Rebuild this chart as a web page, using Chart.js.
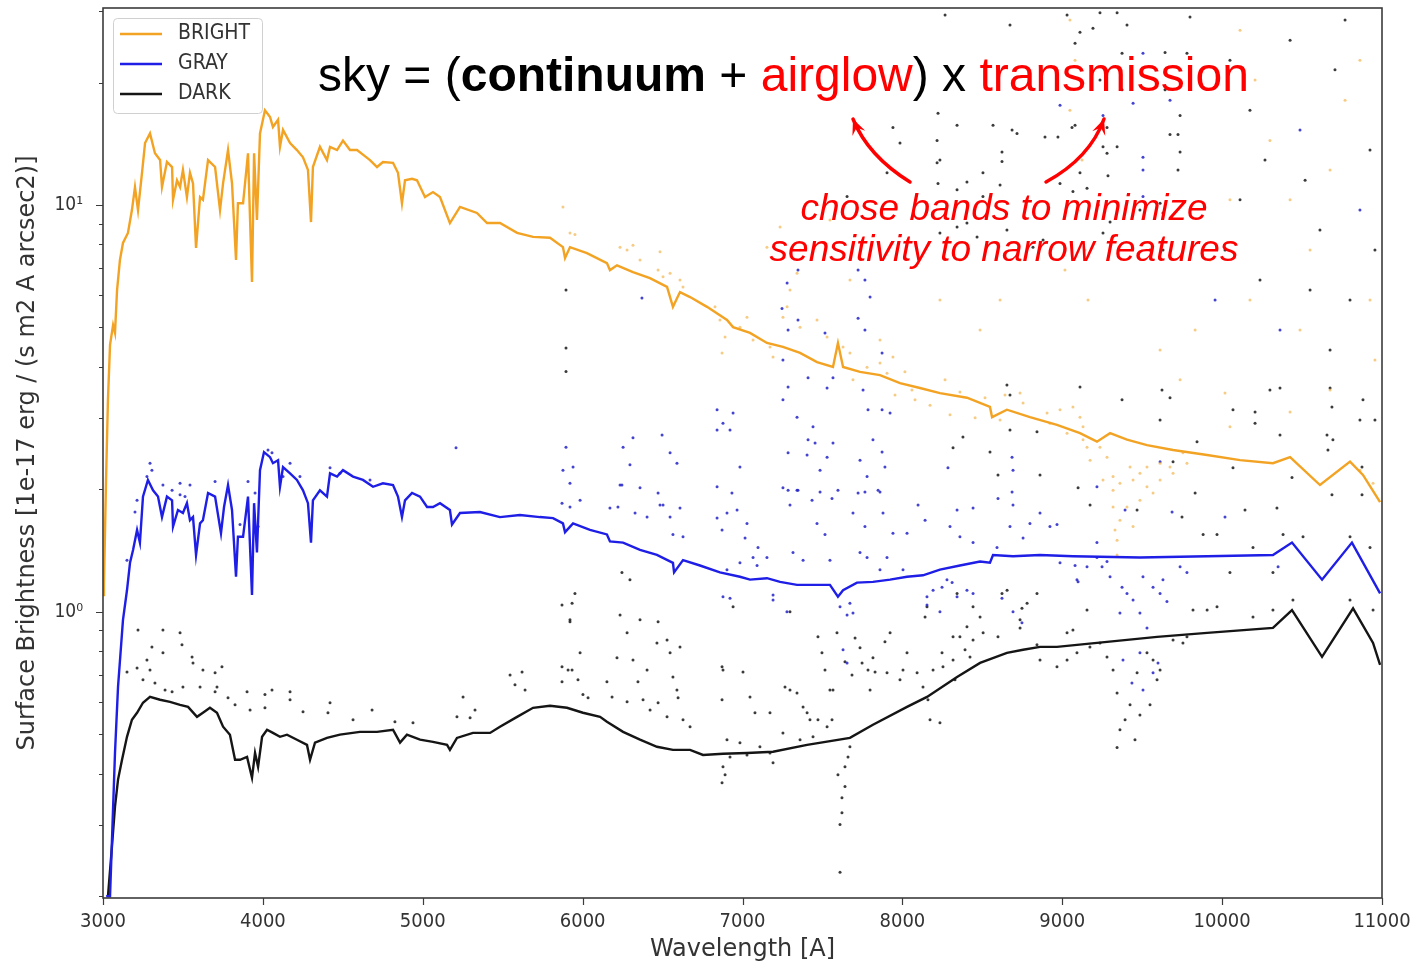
<!DOCTYPE html>
<html>
<head>
<meta charset="utf-8">
<title>Sky brightness</title>
<script src="https://cdn.jsdelivr.net/npm/chart.js@4.4.1/dist/chart.umd.min.js"></script>
<style>
  html, body { margin: 0; padding: 0; background: #fff; }
  #wrap { position: relative; width: 1416px; height: 967px; }
</style>
</head>
<body>
<div id="wrap"><canvas id="sky"></canvas></div>
<script>
'use strict';

// ---------------------------------------------------------------------------
// Data: [wavelength (A), surface brightness (1e-17 erg / (s m2 A arcsec2))]
// ---------------------------------------------------------------------------
const X_TICKS = [3000, 4000, 5000, 6000, 7000, 8000, 9000, 10000, 11000];
const Y_TICKS = [0.2, 0.3, 0.4, 0.5, 0.6, 0.7, 0.8, 0.9, 1, 2, 3, 4, 5, 6, 7, 8, 9, 10, 20, 30];
const Y_LABELS = { 1: '10\u2070', 10: '10\u00b9' };
const X_RANGE = [3000, 11000];
const Y_RANGE = [0.198, 30.5];

const BRIGHT_LINE = [
  [3000,1.1],[3006,1.17],[3019,2.11],[3031,3.32],[3044,4.53],[3063,5.07],[3075,4.85],[3088,6.18],
  [3106,7.33],[3125,8.07],[3156,8.54],[3181,9.72],[3200,11.07],[3219,9.72],[3244,12.0],[3263,14.2],
  [3294,15.0],[3325,13.4],[3357,12.9],[3369,11.07],[3400,12.76],[3432,12.4],[3438,10.3],[3463,11.5],
  [3482,11.07],[3500,12.2],[3525,10.46],[3544,12.0],[3563,11.3],[3582,7.84],[3607,10.46],[3625,10.3],
  [3657,12.9],[3701,12.4],[3732,9.72],[3751,11.3],[3782,13.65],[3807,11.3],[3832,7.33],[3844,10.1],
  [3876,10.1],[3907,13.4],[3932,6.47],[3945,13.4],[3963,9.19],[3982,15.0],[4013,17.1],[4045,16.45],
  [4063,15.55],[4095,16.2],[4107,13.9],[4126,15.3],[4170,14.2],[4213,13.65],[4251,13.1],[4282,12.2],
  [4301,9.08],[4313,12.4],[4357,13.9],[4401,12.9],[4420,13.9],[4464,13.65],[4501,14.4],[4545,13.65],
  [4589,13.65],[4626,13.3],[4670,12.9],[4714,12.4],[4751,12.76],[4814,12.7],[4845,12.0],[4870,10.1],
  [4889,11.5],[4933,11.6],[4964,11.5],[5014,10.46],[5064,10.76],[5108,10.46],[5170,9.03],[5233,9.89],
  [5339,9.56],[5402,9.03],[5483,9.03],[5590,8.54],[5690,8.35],[5796,8.31],[5877,7.88],[5890,7.41],
  [5921,7.88],[6027,7.62],[6152,7.2],[6171,6.92],[6215,7.11],[6315,6.84],[6421,6.61],[6528,6.29],
  [6565,5.62],[6609,6.11],[6672,5.94],[6778,5.62],[6903,5.22],[6941,5.01],[7047,4.85],[7153,4.58],
  [7253,4.48],[7360,4.33],[7466,4.11],[7566,4.0],[7597,4.58],[7629,4.0],[7735,3.89],[7860,3.82],
  [7985,3.65],[8110,3.55],[8235,3.45],[8404,3.36],[8548,3.19],[8561,3.01],[8654,3.14],[8798,3.01],
  [8967,2.88],[9111,2.75],[9217,2.62],[9299,2.75],[9405,2.65],[9530,2.57],[9693,2.5],[9906,2.43],
  [10112,2.36],[10318,2.32],[10425,2.4],[10612,2.05],[10800,2.34],[10881,2.17],[10988,1.86]
];

const GRAY_LINE = [
  [3020,0.2],[3044,0.2],[3075,0.45],[3094,0.654],[3125,0.956],[3150,1.13],[3169,1.32],[3188,1.42],
  [3213,1.59],[3231,1.48],[3250,1.92],[3281,2.11],[3313,1.99],[3344,1.92],[3369,1.71],[3400,1.92],
  [3432,1.88],[3438,1.62],[3469,1.78],[3500,1.75],[3525,1.85],[3544,1.68],[3563,1.71],[3582,1.38],
  [3607,1.65],[3625,1.68],[3657,1.96],[3701,1.92],[3738,1.56],[3757,1.81],[3782,2.05],[3807,1.78],
  [3832,1.22],[3844,1.53],[3876,1.53],[3907,1.92],[3932,1.1],[3945,1.85],[3963,1.4],[3982,2.23],
  [4007,2.47],[4045,2.4],[4063,2.32],[4095,2.36],[4107,2.03],[4126,2.27],[4170,2.19],[4213,2.11],
  [4251,1.99],[4282,1.85],[4301,1.48],[4313,1.88],[4357,1.99],[4401,1.92],[4420,2.19],[4464,2.15],
  [4501,2.23],[4564,2.15],[4626,2.11],[4689,2.03],[4751,2.07],[4814,2.05],[4845,1.92],[4870,1.71],
  [4889,1.88],[4933,1.96],[4983,1.92],[5027,1.81],[5064,1.81],[5108,1.85],[5170,1.78],[5183,1.64],
  [5233,1.75],[5358,1.76],[5483,1.71],[5608,1.73],[5733,1.71],[5815,1.7],[5877,1.65],[5890,1.57],
  [5940,1.65],[6046,1.59],[6152,1.55],[6171,1.49],[6253,1.48],[6359,1.42],[6465,1.38],[6565,1.32],
  [6572,1.25],[6628,1.34],[6734,1.3],[6859,1.25],[6984,1.22],[7047,1.2],[7153,1.21],[7235,1.185],
  [7341,1.165],[7441,1.165],[7547,1.165],[7597,1.09],[7629,1.13],[7716,1.18],[7816,1.185],[7923,1.2],
  [8029,1.22],[8129,1.23],[8235,1.27],[8360,1.3],[8486,1.33],[8548,1.32],[8567,1.38],[8692,1.37],
  [8861,1.38],[9067,1.37],[9486,1.36],[9906,1.37],[10318,1.38],[10437,1.48],[10625,1.2],[10812,1.48],
  [10988,1.11]
];

const DARK_LINE = [
  [3031,0.2],[3056,0.265],[3075,0.332],[3094,0.387],[3119,0.433],[3150,0.493],[3181,0.543],[3213,0.565],
  [3250,0.598],[3294,0.618],[3357,0.608],[3419,0.601],[3482,0.591],[3532,0.584],[3588,0.552],[3625,0.565],
  [3669,0.581],[3713,0.565],[3751,0.522],[3794,0.499],[3826,0.433],[3857,0.433],[3901,0.44],[3932,0.391],
  [3951,0.45],[3970,0.416],[3995,0.493],[4026,0.513],[4063,0.504],[4107,0.493],[4151,0.499],[4213,0.485],
  [4276,0.471],[4295,0.433],[4326,0.477],[4401,0.49],[4482,0.499],[4607,0.507],[4714,0.507],[4814,0.513],
  [4858,0.477],[4901,0.499],[4983,0.485],[5064,0.479],[5152,0.471],[5170,0.458],[5214,0.49],[5314,0.504],
  [5421,0.504],[5483,0.522],[5590,0.552],[5690,0.581],[5796,0.588],[5902,0.581],[6002,0.565],[6109,0.552],
  [6152,0.537],[6253,0.507],[6359,0.485],[6465,0.466],[6565,0.458],[6672,0.458],[6753,0.445],[6878,0.448],
  [7028,0.45],[7191,0.453],[7404,0.471],[7672,0.49],[7816,0.528],[8029,0.584],[8154,0.618],[8342,0.692],
  [8486,0.749],[8654,0.793],[8755,0.807],[8861,0.82],[8967,0.82],[9280,0.844],[9593,0.868],[9906,0.888],
  [10318,0.913],[10437,1.01],[10625,0.775],[10819,1.02],[10944,0.839],[10988,0.741]
];

// individual sky fibres that scatter around each median spectrum
const DARK_DOTS = [
  [3219,0.903],[3375,0.903],[3482,0.888],[3306,0.82],[3375,0.793],[3494,0.83],[3150,0.712],[3213,0.728],
  [3275,0.762],[3294,0.72],[3557,0.775],[3563,0.749],[3625,0.72],[3701,0.708],[3744,0.733],[3250,0.681],
  [3325,0.669],[3388,0.643],[3432,0.636],[3500,0.654],[3607,0.654],[3713,0.654],[3701,0.636],[3782,0.615],
  [3826,0.591],[3901,0.636],[3920,0.574],[4013,0.626],[4057,0.643],[4170,0.636],[4013,0.581],[4170,0.608],
  [4251,0.568],[4420,0.598],[4407,0.565],[4564,0.543],[4683,0.574],[4826,0.537],[4939,0.534],[5214,0.552],
  [5252,0.618],[5296,0.549],[5327,0.574],[5546,0.7],[5577,0.662],[5621,0.712],[5640,0.643],[5871,0.733],
  [5909,0.72],[5984,0.793],[5921,0.945],[5871,0.673],[5971,0.681],[6002,0.626],[6034,0.615],
  [5871,1.04],[5934,1.05],[5921,0.956],[5952,1.11],[6234,0.983],[6359,0.956],[6472,0.945],[6278,0.888],
  [6465,0.839],[6215,0.771],[5934,0.72],[6152,0.673],[6315,0.762],[6403,0.72],[6565,0.692],[6547,0.793],
  [6609,0.82],[6528,0.853],[6346,0.673],[6590,0.643],[6597,0.615],[6184,0.618],[6278,0.601],[6378,0.608],
  [6472,0.598],[6422,0.574],[6528,0.552],[6628,0.543],[6672,0.522],[6872,0.733],[6878,0.72],[7003,0.712],
  [6872,0.608],[7047,0.618],[7078,0.565],[7172,0.565],[7266,0.654],[7297,0.643],[7341,0.632],[7404,0.565],
  [7422,0.543],[7472,0.543],[7529,0.522],[7560,0.543],[7547,0.643],[7379,0.584],[6903,0.485],[6984,0.477],
  [7109,0.466],[7172,0.45],[7253,0.504],[7191,0.426],[6878,0.416],[6891,0.398],[6872,0.38],[6922,0.44],
  [7028,0.445],[7360,0.485],[7441,0.493],[7672,0.466],[7660,0.44],[7641,0.416],[7597,0.398],[7641,0.372],
  [7622,0.349],[7622,0.321],[7610,0.3],[7610,0.229],[7472,0.868],[7516,0.72],[7497,0.793],[7566,0.643],
  [7591,0.888],[7704,0.863],[7641,0.754],[7685,0.7],[7735,0.816],[7816,0.771],[7891,0.844],[7923,0.888],
  [7748,0.749],[7785,0.72],[7829,0.712],[7798,0.643],[7904,0.708],[7985,0.681],[8029,0.793],[8004,0.72],
  [8092,0.708],[8129,0.654],[8160,0.608],[8173,0.543],[8235,0.534],[8248,0.793],[8192,0.72],[8254,0.733],
  [8329,0.681],[8317,0.868],[8404,0.919],[8392,0.807],[8442,0.853],[8505,0.888],[8598,0.868],[8736,0.956],
  [8842,0.83],[8623,1.11],[8748,1.02],[8442,1.03],[8342,1.11],[8142,0.972],[8154,1.03],[6246,1.25],
  [6296,1.2],[6941,1.03],[7297,1.0],
  [8736,0.913],[9030,0.888],[9155,1.01],[9067,0.903],[9236,0.839],[9280,0.775],[9318,0.72],[9343,0.632],
  [9468,0.708],[9530,0.793],[9568,0.762],[9593,0.681],[9612,0.72],[9693,0.853],[9755,0.839],[9780,0.868],
  [9818,1.01],[9906,1.01],[9968,1.03],[8655,1.13],[8486,0.972],[8360,0.868],[8317,0.762],[8423,0.775],
  [8861,0.762],[8967,0.733],[9030,0.762],[9092,0.793],[9173,0.82],[8780,1.05],[8842,1.11],[10193,0.972],
  [10318,1.01],[10443,1.07],[10800,1.07],[10944,1.01],[9361,0.513],[9393,0.543],[9424,0.591],[9343,0.464],
  [9455,0.485],[9549,0.591],[9486,0.558],
  [8654,3.61],[8673,3.41],[9111,3.57],[9374,3.32],[9624,3.51],[9674,3.36],[10299,3.51],[10362,3.55],
  [10675,3.55],[10687,3.19],[10881,3.32],[10862,2.96],[9612,2.96],[10206,2.91],[10206,3.1],[10068,3.14],
  [10956,2.96],[10656,2.72],[10693,2.65],[10662,2.5],[8379,2.69],[8317,2.53],[8548,2.47],[8673,2.8],
  [8842,2.77],[9843,2.62],[10362,2.72],[10437,2.14],[9693,2.34],[10068,2.26],[10875,2.27],[8598,2.17],
  [8861,2.17],[9099,2.02],[9831,1.96],[10343,1.8],[10687,1.94],[10875,1.94],[10143,1.78],[9749,1.71],
  [9468,1.78],[9174,1.83],[10381,1.55],[10506,1.53],[10800,1.53],[10925,1.44],[10193,1.44],[9881,1.55],
  [9968,1.55],[10049,1.25],[10318,1.25],[5896,6.18],[5896,4.45],[5896,3.9],
  [8267,29.3],[8673,27.7],[9030,29.3],[9236,29.7],[9343,29.7],[9799,29.0],[9111,26.6],[9192,27.2],
  [9405,27.7],[9080,25.0],[9374,23.6],[9643,23.7],[9780,23.6],[9236,20.3],[9374,19.2],[9643,19.2],
  [9737,16.6],[9061,15.5],[9080,15.7],[9280,15.5],[9674,14.9],[9724,14.9],[8717,15.0],[8892,14.7],
  [8973,14.7],[9255,13.9],[9280,13.4],[9343,13.9],[9737,13.5],[8623,12.8],[8623,13.5],[9111,12.0],
  [9286,11.8],[9724,12.2],[8986,11.3],[9067,10.8],[9155,11.0],[9612,10.1],[9486,9.72],[9630,9.56],
  [9224,10.0],[9299,9.08],[9549,7.75],[9630,7.75],[9255,8.54],[8223,11.3],[8342,10.9],[8404,11.4],
  [8504,12.0],[8611,11.2],[8223,16.8],[8342,15.7],[8567,15.7],[8686,15.3],[8235,12.9],[8504,10.5],
  [8342,8.83],[8235,8.54],[8404,9.03],[8467,8.35],[8654,8.68],[8817,7.88],[8880,8.2],[7941,15.5],
  [7985,14.2],[8217,14.4],[8217,12.7],[7904,12.0],[7654,10.5],
  [10049,22.7],[10174,17.1],[10268,12.9],[10425,25.4],[10519,11.5],[10612,8.68],[10706,21.5],[10769,28.5],
  [10800,5.84],[10925,13.65],[10956,7.75],[10237,6.54],[10550,6.18],[10675,4.4],[10112,10.3],[10018,7.75]
];

const GRAY_DOTS = [
  [3294,2.32],[3306,2.23],[3275,2.15],[3213,1.88],[3200,1.76],[3150,1.34],[3375,2.05],[3432,1.99],
  [3482,2.07],[3544,2.05],[3482,1.94],[3701,2.09],[3907,2.09],[3951,1.96],[3857,1.64],[4032,2.5],
  [4170,2.32],[4057,2.46],[4126,2.15],[4232,2.15],[4420,2.26],[4482,2.19],[4670,2.11],[3970,1.62],
  [3513,1.92],
  [5871,1.85],[5921,1.81],[5984,1.88],[5921,2.07],[6234,2.05],[6359,2.02],[6472,1.96],[6171,1.8],
  [6221,1.81],[6328,1.75],[6403,1.71],[6484,1.83],[6503,1.83],[6547,1.71],[6609,1.8],[6565,1.55],
  [6628,1.53],[6841,2.03],[6934,1.96],[6903,1.75],[6966,1.78],[6841,1.7],[6872,1.59],[7028,1.65],
  [7016,1.52],[7066,1.36],[7097,1.44],[7253,2.02],[7341,1.99],[7297,1.83],[7435,1.88],[7466,1.65],
  [7516,1.55],[7560,1.9],[7597,1.99],[7691,1.75],[7723,1.96],[7766,1.62],[7848,1.99],[7879,1.75],
  [7941,1.56],[8029,1.56],[8098,1.83],[8142,1.68],[8342,1.78],[8442,1.8],[8598,1.9],[8686,1.97],
  [8692,1.83],[8798,1.65],[8861,1.75],
  [6878,1.09],[6922,1.08],[7191,1.1],[7191,1.07],[7278,1.0],[7610,1.03],[7672,1.05],[7654,0.983],
  [7691,0.994],[7629,0.807],[7735,1.4],[7654,0.749],[8154,1.09],[8154,1.04],[8235,1.0],[8342,1.09],
  [8442,1.11],[8623,1.08],[8692,1.0],[8748,0.94],[8192,1.13],[8248,1.15],[8311,1.18],[7860,1.27],
  [7904,1.36],[8004,1.27],[7779,1.36],[7547,1.34],[7379,1.34],[7316,1.4],[7153,1.36],[7091,1.3],
  [6984,1.32],[6903,1.27],
  [6371,5.91],[5208,2.53],[5896,2.54],[5877,2.23],[5940,2.27],[6253,2.54],[6315,2.68],[6296,2.3],
  [6497,2.72],[6547,2.46],[6590,2.32],[6246,2.05],[6841,3.14],[6878,2.91],[6941,3.08],[6841,2.8],
  [6922,2.8],[6984,2.27],[7253,3.32],[7285,3.57],[7341,3.01],[7410,2.65],[7454,2.6],[7441,2.85],
  [7529,2.4],[7566,2.6],[7404,2.43],[7285,2.46],[7285,1.99],[7347,1.99],[7485,2.23],[7253,4.16],
  [7410,3.76],[7529,3.55],[7566,3.76],[7285,4.93],[7347,5.22],[7247,5.57],[7516,4.85],[7723,5.27],
  [7766,4.93],[7279,6.43],[7347,6.92],[7723,6.92],[7766,6.54],[7798,5.94],[7873,4.33],[7754,3.51],
  [7785,3.14],[7873,3.14],[7923,3.08],[7816,2.65],[7873,2.47],[7735,2.36],[7891,2.27],[7779,2.15],
  [7860,1.97],[7766,1.97],[7485,1.97],
  [9080,1.3],[9099,1.185],[9217,1.36],[9249,1.29],[9299,1.22],[9374,1.15],[9405,1.11],[9443,1.07],
  [9505,1.22],[9568,1.15],[9612,1.11],[9630,1.2],[9655,1.06],[9737,1.29],[9780,1.25],[9486,0.994],
  [9530,0.913],[9361,0.994],[9380,0.762],[9436,0.669],[9505,0.643],[9568,0.708],[9599,0.749],[9486,0.793],
  [10350,1.29],[8967,1.64],[8298,1.62],[8360,1.53],[8442,1.48],[8592,1.44],[8673,1.62],[8755,1.52],
  [8923,1.62],[8986,1.32],[9092,1.2],[9155,1.29],[9217,1.48],[9280,1.33],[8279,1.2],[8404,1.13],
  [8686,2.4],[9612,2.34],[8285,2.26],[8692,2.23],[9217,2.03],[10018,1.71],[9687,1.76],[9393,1.78],
  [9505,23.6],[9674,18.1],[8986,17.6],[9255,16.6],[9505,13.1],[9505,12.2],[9443,17.8],[10487,15.3],
  [10862,9.72],[10362,4.93],[9956,5.84],[9505,10.5]
];

const BRIGHT_DOTS = [
  [5877,9.89],[5921,8.54],[5952,8.46],[6234,7.88],[6278,7.75],[6315,7.96],[6359,7.33],[6472,6.92],
  [6503,6.66],[6547,6.8],[6609,6.54],[6628,6.29],[6484,7.68],[6828,5.62],[6859,5.22],[6891,4.74],
  [6872,4.33],[6984,5.01],[7028,5.3],[7066,4.66],[7172,4.48],[7191,4.23],[7253,5.3],[7279,5.62],
  [7360,5.01],[7466,5.22],[7529,4.74],[7629,4.48],[7672,4.33],[7691,3.72],[7779,3.99],[7860,4.09],
  [7904,3.86],[7860,4.66],[7941,4.23],[7297,6.18],[7341,6.8],[7153,7.88],[7235,8.83],
  [8923,2.91],[9111,3.01],[9155,2.54],[9174,2.36],[9280,2.4],[9318,2.15],[9361,2.07],[9443,2.11],
  [9486,2.19],[9530,2.03],[9568,1.96],[9486,1.88],[9405,1.81],[9361,1.68],[9443,1.62],[9318,1.81],
  [9612,2.11],[9674,2.27],[9693,2.19],[9780,2.32],[9755,2.46],[9612,2.32],[9530,2.27],[9424,2.27],
  [9318,1.99],[9255,2.11],[9236,2.54],[9130,2.65],[9030,2.75],[8755,3.26],[8736,3.45],[8905,3.08],
  [8986,3.14],[9067,3.19],[9130,2.85],[10018,3.45],[10675,3.51],[10862,2.23],[10944,2.07],[10425,3.1],
  [10049,2.85],[8016,3.89],[8079,3.32],[8173,3.22],[8267,3.72],[8298,3.05],[8360,3.47],[8455,3.0],
  [8517,3.36],[8611,2.96],[8642,3.41],[8060,3.51],[7954,3.41],[9343,1.5],[9343,1.38],[9330,1.59],
  [9048,28.5],[9080,22.7],[9048,17.1],[9124,12.9],[9099,9.72],[9142,7.75],[9161,5.84],[9017,6.92],
  [10112,26.9],[10206,20.3],[10299,14.4],[10425,10.3],[10550,7.75],[10675,12.2],[10769,18.1],[10862,22.7],
  [10925,5.84],[10956,4.16],[10487,4.93],[10174,5.84],[10049,10.3],[9924,7.33],[9831,4.93],[9737,3.72],
  [9612,4.4],[8736,7.33],[8611,5.84],[8486,4.93],[8360,7.33],[8235,5.84],[7360,7.75],[7547,9.19],
  [7672,6.54]
];

const SERIES = [
  { label: 'BRIGHT', line: BRIGHT_LINE, dots: BRIGHT_DOTS, color: '#f3a323', dotColor: 'rgba(240,168,50,0.6)' },
  { label: 'GRAY',   line: GRAY_LINE,   dots: GRAY_DOTS,   color: '#1e1ee6', dotColor: 'rgba(35,35,200,0.85)' },
  { label: 'DARK',   line: DARK_LINE,   dots: DARK_DOTS,   color: '#151515', dotColor: 'rgba(25,25,25,0.85)' },
];

// annotation pieces: [text, colour, bold]
const HEADLINE = [
  ['sky = (', '#000', false], ['continuum', '#000', true], [' + ', '#000', false],
  ['airglow', '#f00', false], [') x ', '#000', false], ['transmission', '#f00', false],
];
const NOTE_LINES = ['chose bands to minimize', 'sensitivity to narrow features'];

const TICK_FONT = '"DejaVu Sans Condensed", "DejaVu Sans", sans-serif';
const LABEL_FONT = '"DejaVu Sans", sans-serif';
const NOTE_FONT = '"Liberation Sans", Arial, sans-serif';

// ---------------------------------------------------------------------------
// Plugins
// ---------------------------------------------------------------------------
const toXY = pts => pts.map(([x, y]) => ({ x, y }));

// full matplotlib-style frame with outward tick marks
const frameTicks = {
  id: 'frameTicks',
  afterDatasetsDraw(chart) {
    const { ctx, chartArea: a, scales: { x, y } } = chart;
    ctx.save();
    ctx.strokeStyle = '#3b3b3b';
    ctx.lineWidth = 1.2;
    ctx.beginPath();
    x.ticks.forEach(t => {
      const px = Math.round(x.getPixelForValue(t.value)) + 0.5;
      ctx.moveTo(px, a.bottom);
      ctx.lineTo(px, a.bottom + 7);
    });
    y.ticks.forEach(t => {
      const py = Math.round(y.getPixelForValue(t.value)) + 0.5;
      const len = Y_LABELS[t.value] ? 7 : 4;
      ctx.moveTo(a.left - len, py);
      ctx.lineTo(a.left, py);
    });
    ctx.stroke();
    ctx.lineWidth = 1.6;
    ctx.strokeRect(a.left, a.top, a.right - a.left, a.bottom - a.top);
    ctx.restore();
  }
};

// legend box in the upper left corner, built from the median-line datasets
const legendBox = {
  id: 'legendBox',
  afterDatasetsDraw(chart) {
    const { ctx, chartArea: a } = chart;
    const items = chart.data.datasets.filter(d => d.showLine);
    const x0 = a.left + 10, y0 = a.top + 10, rowH = 30;
    const w = 149, h = items.length * rowH + 5;
    ctx.save();
    ctx.fillStyle = 'rgba(255,255,255,0.85)';
    ctx.strokeStyle = '#d0d0d0';
    ctx.lineWidth = 1;
    ctx.beginPath();
    ctx.roundRect(x0 + 0.5, y0 + 0.5, w, h, 4);
    ctx.fill();
    ctx.stroke();
    ctx.font = '21px ' + TICK_FONT;
    ctx.textBaseline = 'middle';
    items.forEach((d, i) => {
      const cy = y0 + 16 + i * rowH;
      ctx.strokeStyle = d.borderColor;
      ctx.lineWidth = 2.5;
      ctx.beginPath();
      ctx.moveTo(x0 + 7, cy);
      ctx.lineTo(x0 + 49, cy);
      ctx.stroke();
      ctx.fillStyle = '#333';
      ctx.fillText(d.label, x0 + 65, cy);
    });
    ctx.restore();
  }
};

function drawArrow(ctx, from, ctrl, tip) {
  ctx.beginPath();
  ctx.moveTo(from[0], from[1]);
  ctx.quadraticCurveTo(ctrl[0], ctrl[1], tip[0], tip[1]);
  ctx.stroke();
  const ang = Math.atan2(tip[1] - ctrl[1], tip[0] - ctrl[0]);
  const len = 17, half = 0.42;
  ctx.beginPath();
  ctx.moveTo(tip[0], tip[1]);
  ctx.lineTo(tip[0] - len * Math.cos(ang - half), tip[1] - len * Math.sin(ang - half));
  ctx.lineTo(tip[0] - len * 0.55 * Math.cos(ang), tip[1] - len * 0.55 * Math.sin(ang));
  ctx.lineTo(tip[0] - len * Math.cos(ang + half), tip[1] - len * Math.sin(ang + half));
  ctx.closePath();
  ctx.fill();
}

// "sky = ..." headline, the red note and its two arrows
const annotation = {
  id: 'annotation',
  afterDraw(chart) {
    const { ctx } = chart;
    ctx.save();
    ctx.textBaseline = 'alphabetic';
    let x = 318;
    HEADLINE.forEach(([txt, col, bold]) => {
      ctx.font = (bold ? 'bold ' : '') + '48px ' + NOTE_FONT;
      ctx.fillStyle = col;
      ctx.fillText(txt, x, 91);
      x += ctx.measureText(txt).width;
    });

    ctx.fillStyle = '#f00';
    ctx.font = 'italic 37px ' + NOTE_FONT;
    ctx.textAlign = 'center';
    ctx.fillText(NOTE_LINES[0], 1004, 220);
    ctx.fillText(NOTE_LINES[1], 1004, 261);

    ctx.strokeStyle = '#f00';
    ctx.lineWidth = 3.5;
    ctx.lineCap = 'round';
    drawArrow(ctx, [910, 182], [868, 156], [853, 119]);
    drawArrow(ctx, [1046, 182], [1090, 158], [1104, 119]);
    ctx.restore();
  }
};

// ---------------------------------------------------------------------------
// Chart
// ---------------------------------------------------------------------------
const datasets = [];
SERIES.forEach(s => {
  datasets.push({
    label: s.label,
    data: toXY(s.line),
    showLine: true,
    borderColor: s.color,
    backgroundColor: s.color,
    borderWidth: 2.4,
    pointRadius: 0,
    tension: 0,
    order: 0,
  });
});
SERIES.forEach(s => {
  datasets.push({
    label: s.label + ' fibres',
    data: toXY(s.dots),
    showLine: false,
    pointRadius: 1.5,
    pointBorderWidth: 0,
    pointBackgroundColor: s.dotColor,
    order: 1,
  });
});

new Chart(document.getElementById('sky'), {
  type: 'scatter',
  data: { datasets },
  options: {
    responsive: true,
    maintainAspectRatio: false,
    animation: false,
    devicePixelRatio: 1,
    events: [],
    layout: { padding: { top: 8, right: 34, left: 0, bottom: 0 } },
    plugins: {
      legend: { display: false },
      tooltip: { enabled: false },
    },
    scales: {
      x: {
        type: 'linear',
        min: X_RANGE[0],
        max: X_RANGE[1],
        afterBuildTicks: s => { s.ticks = X_TICKS.map(v => ({ value: v })); },
        afterFit: s => { s.height = 69; s.paddingLeft = 0; s.paddingRight = 0; },
        grid: { display: false, drawTicks: false },
        border: { display: false },
        ticks: {
          padding: 12,
          maxRotation: 0,
          autoSkip: false,
          color: '#333',
          font: { family: TICK_FONT, size: 20 },
          callback: v => String(v),
        },
        title: {
          display: true,
          text: 'Wavelength [A]',
          color: '#333',
          font: { family: LABEL_FONT, size: 24 },
          padding: { top: 0, bottom: 3 },
        },
      },
      y: {
        type: 'logarithmic',
        min: Y_RANGE[0],
        max: Y_RANGE[1],
        afterBuildTicks: s => { s.ticks = Y_TICKS.map(v => ({ value: v })); },
        afterFit: s => { s.width = 103; s.paddingTop = 0; s.paddingBottom = 0; },
        grid: { display: false, drawTicks: false },
        border: { display: false },
        ticks: {
          padding: 20,
          autoSkip: false,
          color: '#333',
          font: { family: TICK_FONT, size: 19 },
          callback: v => Y_LABELS[v] || '',
        },
        title: {
          display: true,
          text: 'Surface Brightness [1e-17 erg / (s m2 A arcsec2)]',
          color: '#333',
          font: { family: LABEL_FONT, size: 24 },
          padding: { top: 13, bottom: 0 },
        },
      },
    },
  },
  plugins: [frameTicks, legendBox, annotation],
});
</script>
</body>
</html>
